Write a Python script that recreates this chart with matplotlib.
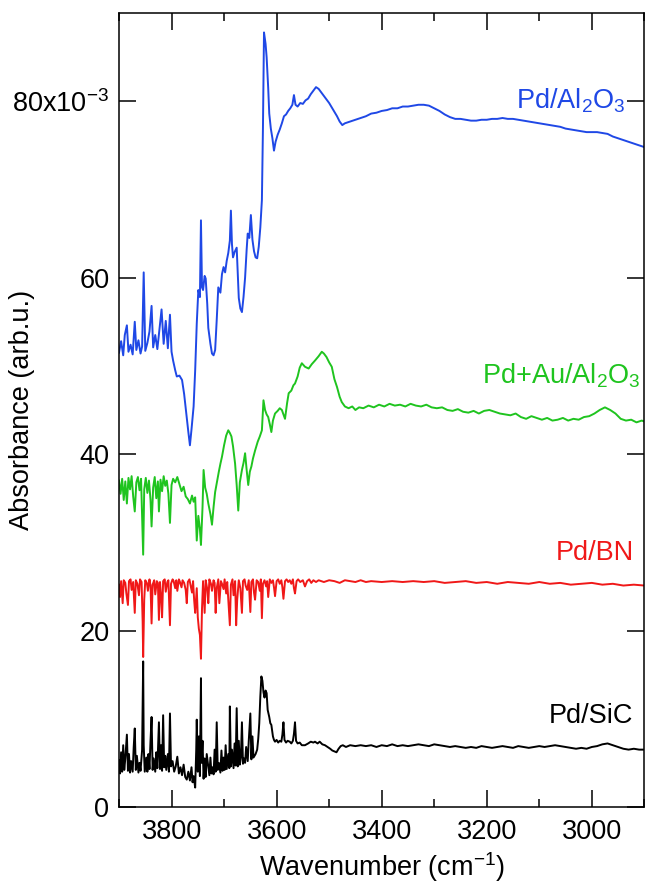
import matplotlib
matplotlib.use("Agg")
import matplotlib.pyplot as plt
from matplotlib.ticker import MultipleLocator, FixedLocator

plt.rcParams['font.family'] = ['Liberation Sans', 'DejaVu Sans']
plt.rcParams['mathtext.default'] = 'regular'

# (wavenumber cm-1, absorbance x1e-3)
pd_al2o3 = [
    (3900, 51.5), (3896, 52.8), (3892, 51.2), (3889, 53.5), (3885, 54.6), (3882, 51.6), (3878, 52.4),
    (3874, 51.3), (3870, 55.0), (3867, 51.8), (3863, 52.9), (3859, 51.4), (3856, 52.2), (3853, 60.6),
    (3850, 51.7), (3846, 52.6), (3842, 53.9), (3838, 56.8), (3835, 52.1), (3831, 53.5), (3827, 51.9),
    (3823, 54.2), (3819, 56.4), (3815, 52.5), (3811, 55.1), (3807, 52.0), (3803, 55.8), (3800, 51.6),
    (3797, 50.6), (3793, 49.5), (3790, 48.8), (3785, 48.9), (3780, 48.4), (3776, 46.8), (3772, 44.6),
    (3768, 42.5), (3765, 41.0), (3762, 42.8), (3758, 45.4), (3755, 49.5), (3752, 54.8), (3749, 58.6),
    (3746, 57.8), (3744, 66.5), (3742, 58.9), (3740, 58.6), (3737, 60.2), (3735, 59.9), (3732, 57.0),
    (3730, 54.3), (3726, 52.5), (3723, 51.4), (3720, 51.2), (3717, 51.8), (3714, 55.2), (3711, 58.9),
    (3707, 58.3), (3704, 60.4), (3701, 61.2), (3698, 60.6), (3695, 61.9), (3692, 62.8), (3689, 64.2),
    (3687, 67.6), (3685, 63.8), (3683, 62.3), (3680, 62.9), (3676, 63.4), (3674, 60.5), (3672, 57.7),
    (3669, 56.5), (3666, 56.1), (3663, 57.8), (3660, 60.0), (3657, 63.2), (3655, 65.0), (3652, 64.5),
    (3649, 67.1), (3646, 64.3), (3643, 63.0), (3640, 62.3), (3637, 62.2), (3634, 63.5), (3631, 65.7),
    (3628, 68.8), (3626, 77.0), (3624, 87.8), (3621, 86.5), (3619, 85.0), (3616, 81.5), (3614, 78.6),
    (3611, 76.9), (3608, 75.8), (3605, 74.4), (3602, 75.4), (3598, 76.2), (3594, 76.8), (3590, 77.5),
    (3586, 78.3), (3582, 78.5), (3578, 78.9), (3574, 79.2), (3570, 79.6), (3567, 80.7), (3564, 79.6),
    (3560, 79.4), (3555, 79.8), (3550, 79.7), (3545, 80.1), (3540, 80.3), (3535, 80.8), (3530, 81.2),
    (3525, 81.6), (3520, 81.4), (3515, 81.0), (3510, 80.6), (3505, 80.2), (3500, 79.8), (3495, 79.3),
    (3490, 78.8), (3485, 78.3), (3480, 77.7), (3475, 77.3), (3470, 77.5), (3460, 77.7), (3450, 77.9),
    (3440, 78.1), (3430, 78.3), (3420, 78.6), (3410, 78.7), (3400, 78.9), (3390, 79.0), (3380, 79.2),
    (3370, 79.2), (3360, 79.4), (3350, 79.4), (3340, 79.5), (3330, 79.6), (3320, 79.6), (3310, 79.5),
    (3300, 79.2), (3290, 78.9), (3280, 78.5), (3270, 78.2), (3260, 78.0), (3250, 78.0), (3240, 77.9),
    (3230, 77.8), (3220, 77.8), (3210, 77.9), (3200, 77.9), (3190, 78.0), (3180, 78.0), (3170, 78.1),
    (3160, 78.0), (3150, 78.0), (3140, 77.9), (3130, 77.8), (3120, 77.7), (3110, 77.6), (3100, 77.5),
    (3090, 77.4), (3080, 77.3), (3070, 77.2), (3060, 77.1), (3050, 76.9), (3040, 76.8), (3030, 76.7),
    (3020, 76.6), (3010, 76.5), (3000, 76.5), (2990, 76.5), (2980, 76.4), (2970, 76.3), (2960, 76.0),
    (2950, 75.8), (2940, 75.6), (2930, 75.4), (2920, 75.2), (2910, 75.0), (2900, 74.8),
]

pd_au_al2o3 = [
    (3900, 37.0), (3897, 35.5), (3894, 37.2), (3891, 34.8), (3888, 36.9), (3885, 34.4), (3882, 37.3),
    (3879, 36.0), (3876, 37.5), (3873, 35.2), (3870, 33.5), (3867, 36.8), (3864, 37.4), (3861, 35.9),
    (3858, 37.2), (3855, 30.5), (3854, 28.6), (3852, 36.0), (3849, 37.3), (3846, 35.6), (3843, 37.0),
    (3840, 34.8), (3838, 31.8), (3835, 36.2), (3832, 37.4), (3829, 35.0), (3826, 36.9), (3824, 33.5),
    (3821, 37.1), (3818, 35.8), (3815, 37.5), (3812, 36.4), (3809, 37.0), (3806, 35.5), (3803, 32.2),
    (3800, 36.5), (3797, 37.2), (3793, 36.8), (3789, 37.4), (3785, 36.6), (3781, 35.8), (3777, 36.3),
    (3773, 35.2), (3769, 34.9), (3765, 34.4), (3761, 35.3), (3758, 34.6), (3755, 35.1), (3752, 30.2),
    (3749, 33.0), (3746, 31.5), (3744, 29.7), (3741, 34.0), (3739, 38.2), (3736, 36.2), (3733, 35.5),
    (3730, 34.4), (3726, 33.2), (3723, 32.0), (3720, 34.0), (3717, 35.7), (3714, 36.7), (3710, 38.0),
    (3707, 38.9), (3704, 39.7), (3700, 41.0), (3696, 42.1), (3692, 42.7), (3689, 42.4), (3686, 42.0),
    (3683, 40.9), (3679, 38.9), (3676, 36.5), (3673, 33.6), (3670, 36.8), (3666, 38.2), (3663, 39.0),
    (3660, 40.1), (3657, 38.2), (3654, 36.5), (3651, 38.0), (3648, 38.6), (3645, 39.5), (3641, 40.4),
    (3638, 41.0), (3636, 41.4), (3632, 42.0), (3628, 42.7), (3625, 46.1), (3622, 45.0), (3619, 44.5),
    (3616, 44.2), (3613, 43.4), (3610, 42.5), (3607, 43.8), (3603, 44.6), (3598, 44.9), (3594, 45.2),
    (3590, 45.0), (3587, 44.5), (3584, 44.0), (3580, 45.8), (3577, 46.9), (3572, 47.2), (3568, 47.8),
    (3565, 48.0), (3560, 48.8), (3556, 49.8), (3552, 50.3), (3546, 49.9), (3539, 49.7), (3533, 50.2),
    (3527, 50.6), (3520, 51.1), (3514, 51.6), (3510, 51.4), (3505, 51.0), (3500, 50.4), (3495, 49.9),
    (3490, 48.5), (3485, 47.6), (3480, 46.5), (3476, 45.9), (3470, 45.4), (3463, 45.2), (3456, 45.4),
    (3450, 45.0), (3443, 45.3), (3435, 45.2), (3425, 45.5), (3415, 45.3), (3405, 45.6), (3395, 45.4),
    (3385, 45.7), (3375, 45.5), (3365, 45.6), (3355, 45.4), (3345, 45.7), (3335, 45.5), (3325, 45.4),
    (3315, 45.6), (3305, 45.3), (3295, 45.2), (3285, 45.3), (3275, 45.0), (3265, 44.9), (3255, 45.1),
    (3245, 44.8), (3235, 44.7), (3225, 44.9), (3215, 44.6), (3205, 44.9), (3195, 45.0), (3185, 44.8),
    (3175, 44.6), (3165, 44.5), (3155, 44.4), (3145, 44.6), (3135, 44.2), (3125, 44.0), (3115, 44.3),
    (3105, 44.1), (3095, 43.9), (3085, 44.1), (3075, 43.8), (3065, 43.9), (3055, 44.1), (3045, 43.8),
    (3035, 44.0), (3025, 43.9), (3015, 44.2), (3005, 44.3), (2995, 44.6), (2985, 45.0), (2975, 45.3),
    (2965, 45.0), (2955, 44.6), (2945, 44.0), (2935, 43.8), (2925, 43.9), (2915, 43.6), (2905, 43.8),
    (2900, 43.7),
]

pd_bn = [
    (3900, 25.2), (3898, 23.8), (3896, 25.6), (3893, 23.1), (3891, 25.7), (3888, 25.4), (3886, 24.2),
    (3883, 22.9), (3881, 25.6), (3878, 25.8), (3876, 24.6), (3873, 25.5), (3870, 22.0), (3868, 25.7),
    (3865, 25.3), (3862, 24.0), (3860, 25.8), (3857, 25.5), (3855, 21.0), (3854, 17.0), (3852, 23.5),
    (3850, 25.7), (3847, 25.4), (3845, 24.5), (3842, 25.8), (3840, 25.1), (3838, 20.8), (3836, 25.2),
    (3833, 25.7), (3831, 24.1), (3828, 25.6), (3826, 25.4), (3824, 21.2), (3822, 25.5), (3820, 24.0),
    (3818, 21.5), (3816, 25.6), (3813, 25.8), (3811, 24.4), (3808, 25.5), (3806, 25.7), (3803, 20.6),
    (3801, 25.3), (3798, 25.8), (3796, 25.6), (3793, 24.8), (3791, 25.7), (3789, 24.5), (3786, 25.8),
    (3784, 25.5), (3781, 24.9), (3779, 25.7), (3776, 25.4), (3773, 24.6), (3771, 23.1), (3769, 25.5),
    (3766, 25.8), (3764, 25.2), (3761, 24.3), (3759, 25.6), (3757, 23.5), (3755, 22.0), (3752, 24.8),
    (3750, 21.5), (3748, 20.2), (3746, 19.5), (3744, 16.8), (3742, 22.5), (3740, 25.6), (3737, 22.0),
    (3735, 25.7), (3732, 24.7), (3730, 23.1), (3728, 25.8), (3725, 25.3), (3723, 24.5), (3720, 25.7),
    (3718, 25.4), (3716, 22.0), (3714, 24.8), (3711, 25.8), (3709, 23.1), (3706, 25.6), (3704, 25.3),
    (3701, 24.7), (3699, 25.8), (3696, 24.2), (3694, 25.5), (3691, 22.5), (3689, 20.6), (3687, 25.2),
    (3684, 25.8), (3682, 24.0), (3679, 25.6), (3677, 20.6), (3675, 23.5), (3672, 25.7), (3669, 24.8),
    (3666, 22.0), (3664, 25.6), (3661, 25.8), (3659, 25.1), (3656, 24.6), (3653, 25.7), (3650, 22.1),
    (3648, 25.5), (3645, 25.8), (3643, 24.3), (3641, 23.5), (3638, 25.7), (3635, 25.5), (3632, 24.5),
    (3630, 25.8), (3628, 21.4), (3626, 25.3), (3623, 25.7), (3620, 25.0), (3618, 25.6), (3616, 23.8),
    (3613, 25.8), (3610, 25.4), (3607, 25.7), (3605, 24.9), (3603, 23.9), (3600, 25.6), (3597, 25.8),
    (3594, 25.3), (3591, 25.7), (3589, 24.9), (3587, 23.6), (3584, 25.6), (3581, 25.8), (3578, 25.5),
    (3575, 25.7), (3572, 25.3), (3569, 25.8), (3567, 24.8), (3565, 24.2), (3562, 25.6), (3559, 25.8),
    (3555, 25.5), (3550, 25.7), (3546, 25.0), (3542, 25.6), (3538, 25.8), (3534, 25.4), (3530, 25.7),
    (3525, 25.5), (3520, 25.7), (3510, 25.5), (3500, 25.7), (3490, 25.6), (3480, 25.4), (3470, 25.7),
    (3460, 25.6), (3450, 25.5), (3440, 25.7), (3430, 25.5), (3420, 25.6), (3400, 25.5), (3380, 25.6),
    (3360, 25.5), (3340, 25.6), (3320, 25.5), (3300, 25.6), (3280, 25.4), (3260, 25.5), (3240, 25.6),
    (3220, 25.4), (3200, 25.5), (3180, 25.3), (3160, 25.5), (3140, 25.4), (3120, 25.3), (3100, 25.5),
    (3080, 25.3), (3060, 25.4), (3040, 25.2), (3020, 25.3), (3000, 25.4), (2980, 25.2), (2960, 25.3),
    (2940, 25.1), (2920, 25.2), (2900, 25.1),
]

pd_sic = [
    (3900, 5.3), (3898, 3.8), (3896, 6.2), (3894, 4.0), (3892, 7.0), (3890, 4.2), (3888, 5.5),
    (3885, 8.2), (3883, 4.1), (3881, 6.0), (3879, 3.9), (3877, 5.2), (3874, 4.0), (3872, 6.8),
    (3870, 8.9), (3868, 4.2), (3866, 5.8), (3863, 3.9), (3861, 5.0), (3859, 4.1), (3856, 6.5),
    (3855, 12.0), (3854, 16.5), (3853, 7.0), (3851, 4.0), (3848, 5.6), (3846, 4.0), (3844, 6.0),
    (3842, 4.3), (3840, 7.5), (3838, 10.2), (3836, 4.2), (3834, 5.5), (3831, 4.0), (3829, 6.2),
    (3827, 4.4), (3824, 9.6), (3822, 4.3), (3820, 7.0), (3818, 4.1), (3816, 10.4), (3814, 4.5),
    (3812, 5.8), (3810, 4.2), (3807, 6.0), (3805, 4.0), (3803, 10.6), (3801, 4.6), (3798, 5.2),
    (3795, 4.0), (3792, 4.6), (3789, 5.7), (3786, 3.8), (3783, 4.5), (3780, 3.6), (3777, 4.8),
    (3774, 3.4), (3771, 3.1), (3768, 4.0), (3765, 3.0), (3762, 4.5), (3760, 2.8), (3758, 3.5),
    (3755, 2.2), (3753, 6.5), (3752, 9.9), (3750, 4.0), (3748, 8.0), (3746, 3.5), (3744, 14.6),
    (3743, 5.0), (3741, 7.5), (3739, 3.2), (3737, 5.5), (3735, 3.4), (3733, 6.0), (3730, 4.5),
    (3728, 3.6), (3726, 5.6), (3724, 3.8), (3722, 4.5), (3720, 3.7), (3718, 6.5), (3716, 4.0),
    (3714, 9.6), (3712, 4.2), (3710, 5.0), (3707, 3.9), (3705, 6.4), (3703, 4.1), (3701, 5.6),
    (3699, 4.2), (3697, 7.0), (3695, 4.3), (3692, 6.0), (3690, 4.4), (3689, 11.4), (3687, 4.6),
    (3685, 6.5), (3682, 4.4), (3680, 7.2), (3678, 4.7), (3676, 11.2), (3674, 4.6), (3672, 7.5),
    (3670, 4.8), (3668, 5.6), (3666, 9.6), (3664, 4.9), (3662, 5.5), (3660, 5.0), (3658, 6.8),
    (3655, 5.2), (3653, 7.5), (3650, 10.6), (3648, 5.4), (3646, 8.0), (3644, 5.6), (3642, 5.8),
    (3640, 6.0), (3637, 6.5), (3635, 7.7), (3633, 9.5), (3631, 12.5), (3629, 14.8), (3627, 14.3),
    (3625, 13.0), (3623, 12.4), (3621, 13.2), (3619, 12.9), (3617, 11.0), (3614, 10.2), (3612, 9.5),
    (3610, 9.3), (3607, 8.0), (3605, 7.6), (3603, 7.4), (3600, 7.6), (3597, 7.3), (3594, 7.5),
    (3591, 7.4), (3589, 8.2), (3587, 9.6), (3585, 7.6), (3582, 7.3), (3579, 7.5), (3575, 7.4),
    (3572, 7.2), (3569, 7.5), (3567, 8.3), (3565, 9.6), (3563, 7.5), (3560, 7.2), (3556, 7.3),
    (3552, 7.0), (3546, 7.0), (3540, 7.2), (3535, 7.4), (3530, 7.3), (3527, 7.4), (3522, 7.2),
    (3518, 7.4), (3513, 7.1), (3508, 7.0), (3503, 6.8), (3498, 6.6), (3494, 6.4), (3490, 6.3),
    (3486, 6.2), (3482, 6.6), (3478, 6.9), (3474, 7.0), (3468, 6.8), (3460, 7.0), (3450, 6.9),
    (3440, 7.0), (3430, 6.9), (3420, 7.0), (3410, 6.8), (3400, 7.0), (3390, 6.9), (3380, 7.1),
    (3370, 6.9), (3360, 7.0), (3350, 6.9), (3340, 7.0), (3330, 7.1), (3320, 7.0), (3310, 6.9),
    (3300, 7.1), (3290, 7.0), (3280, 6.9), (3270, 6.8), (3260, 6.9), (3250, 6.8), (3240, 6.7),
    (3230, 6.8), (3220, 6.7), (3210, 6.9), (3200, 6.8), (3190, 6.7), (3180, 6.8), (3170, 6.9),
    (3160, 6.8), (3150, 6.7), (3140, 6.9), (3130, 6.8), (3120, 6.7), (3110, 6.8), (3100, 6.9),
    (3090, 6.8), (3080, 6.9), (3070, 7.0), (3060, 6.9), (3050, 6.8), (3040, 6.7), (3030, 6.6),
    (3020, 6.7), (3010, 6.6), (3000, 6.8), (2990, 6.9), (2980, 7.1), (2970, 7.2), (2960, 7.0),
    (2950, 6.8), (2940, 6.6), (2930, 6.5), (2920, 6.6), (2910, 6.5), (2900, 6.5),
]

# data, colour, label, label x (cm-1), label baseline (x1e-3)
series = [
    (pd_al2o3, "#1f48e6", "Pd/Al$_2$O$_3$", 2935, 79.2),
    (pd_au_al2o3, "#1fc41f", "Pd+Au/Al$_2$O$_3$", 2907, 48.0),
    (pd_bn, "#f01818", "Pd/BN", 2920, 28.0),
    (pd_sic, "#000000", "Pd/SiC", 2921, 9.5),
]

fs = 19.5

fig = plt.figure(figsize=(6.45, 8.86), dpi=100)
ax = fig.add_axes([0.1845, 0.0892, 0.8145, 0.8961])

for data, color, label, lx, ly in series:
    wn = [p[0] for p in data]
    ab = [p[1] for p in data]
    ax.plot(wn, ab, color=color, lw=1.4)
    ax.text(lx, ly, label, color=color, fontsize=fs, ha="right", va="baseline")

ax.set_xlim(3900, 2900)
ax.set_ylim(0, 90)

ax.xaxis.set_major_locator(MultipleLocator(200))
ax.xaxis.set_minor_locator(MultipleLocator(100))
ax.yaxis.set_major_locator(FixedLocator([0, 20, 40, 60, 80]))
ax.set_yticklabels(["0", "20", "40", "60", "80x10$^{-3}$"])

ax.tick_params(which="both", direction="in", top=True, right=True, labelsize=fs, width=1.1)
ax.tick_params(which="major", length=12)
ax.tick_params(axis="x", which="major", pad=9)
ax.tick_params(axis="y", which="major", pad=7)
ax.tick_params(which="minor", length=6)
ax.tick_params(axis="y", which="minor", left=False, right=False)

for sp in ax.spines.values():
    sp.set_linewidth(1.1)

fig.text(382 / 645, 1 - 867 / 886, "Wavenumber (cm$^{-1}$)", fontsize=fs, ha="center", va="center")
fig.text(22 / 645, 1 - 410 / 886, "Absorbance (arb.u.)", fontsize=fs, ha="center", va="center",
         rotation=90)

fig.savefig("out.png", dpi=100)
